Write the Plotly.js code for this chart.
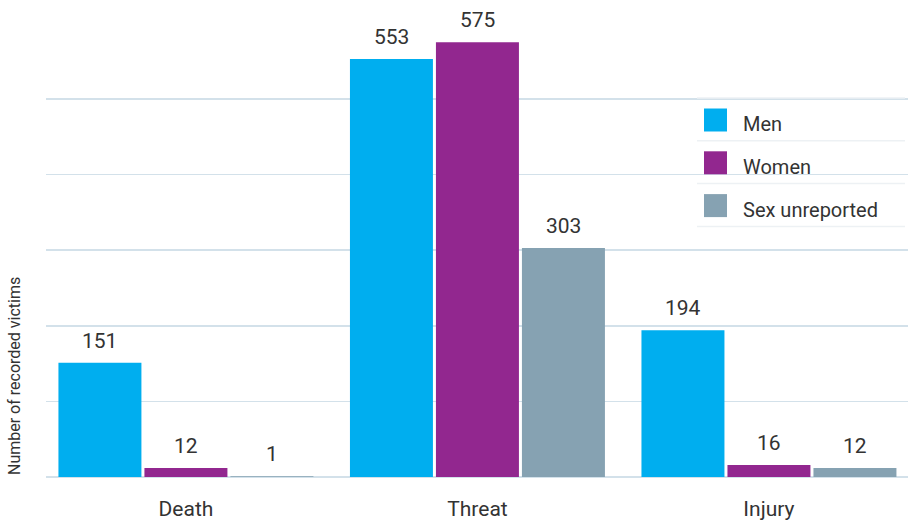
<!DOCTYPE html>
<html>
<head>
<meta charset="utf-8">
<script src="https://cdn.plot.ly/plotly-3.0.1.min.js"></script>
<style>html,body{margin:0;padding:0;background:#fff;}#chart{width:910px;height:520px;}</style>
</head>
<body>
<div id="chart"></div>
<script>
const categories = ["Death", "Threat", "Injury"];
const seriesNames = ["Men", "Women", "Sex unreported"];
const men = [151, 553, 194];
const women = [12, 575, 16];
const unreported = [1, 303, 12];
const yTitle = "Number of recorded victims";
const gridValues = [0, 100, 200, 300, 400, 500];

const colors = ["#00AEEF", "#92278F", "#86A2B2"];
const values = [men, women, unreported];
const FONT = "Roboto, 'Liberation Sans', sans-serif";

const traces = values.map((v, i) => ({
  type: "bar",
  name: seriesNames[i],
  x: categories,
  y: v,
  marker: {color: colors[i]},
  hoverinfo: "x+y+name",
  showlegend: false
}));

const annotations = [];
const slotPx = 86;
values.forEach((v, i) => {
  v.forEach((val, j) => {
    annotations.push({
      x: categories[j], y: val, xref: "x", yref: "y",
      text: String(val), showarrow: false,
      xanchor: "center", yanchor: "bottom",
      xshift: (i - 1) * slotPx, yshift: 8,
      font: {family: FONT, size: 21, color: "#333333"}
    });
  });
});

// y-axis title
annotations.push({
  xref: "paper", yref: "paper", x: 0, y: 0,
  xshift: -32, text: yTitle, textangle: -90, showarrow: false,
  xanchor: "center", yanchor: "bottom",
  font: {family: FONT, size: 16, color: "#333333"}
});

// custom legend
const plotL = 46, plotR = 908, plotH = 477;
const W = plotR - plotL;
const px2x = p => (p - plotL) / W;
const px2y = p => (plotH - p) / plotH;
const shapes = [];
const legTop = 98, rowH = 42.8;
for (let k = 0; k <= seriesNames.length; k++) {
  const yy = legTop + k * rowH;
  shapes.push({type: "line", xref: "paper", yref: "paper",
    x0: px2x(697), x1: px2x(905), y0: px2y(yy), y1: px2y(yy),
    line: {color: "#EDF1F4", width: 1.5}});
}
seriesNames.forEach((n, k) => {
  const cy = legTop + k * rowH + 22;
  shapes.push({type: "rect", xref: "paper", yref: "paper",
    x0: px2x(704), x1: px2x(727), y0: px2y(cy - 11.5), y1: px2y(cy + 11.5),
    fillcolor: colors[k], line: {width: 0}});
  annotations.push({xref: "paper", yref: "paper", x: px2x(741), y: px2y(cy + 4),
    text: n, showarrow: false, xanchor: "left", yanchor: "middle",
    font: {family: FONT, size: 20, color: "#333333"}});
});

const layout = {
  width: 910, height: 520,
  margin: {l: 46, r: 2, t: 0, b: 43, pad: 0},
  paper_bgcolor: "#ffffff", plot_bgcolor: "#ffffff",
  barmode: "group", bargap: 0.115, bargroupgap: 0.035,
  showlegend: false,
  font: {family: FONT, color: "#333333"},
  xaxis: {
    type: "category", range: [-0.48, 2.477],
    showgrid: false, zeroline: false, showline: false, ticks: "",
    ticklabelstandoff: 17,
    tickfont: {family: FONT, size: 21, color: "#333333"},
    fixedrange: true
  },
  yaxis: {
    range: [0, 631], tickmode: "array", tickvals: gridValues,
    showgrid: true, gridcolor: "#D3E1EA", gridwidth: 1.5,
    zeroline: true, zerolinecolor: "#D3E1EA", zerolinewidth: 1.5,
    showticklabels: false, ticks: "", showline: false,
    fixedrange: true
  },
  shapes: shapes,
  annotations: annotations
};

Plotly.newPlot("chart", traces, layout, {displayModeBar: false, staticPlot: true});
</script>
</body>
</html>
